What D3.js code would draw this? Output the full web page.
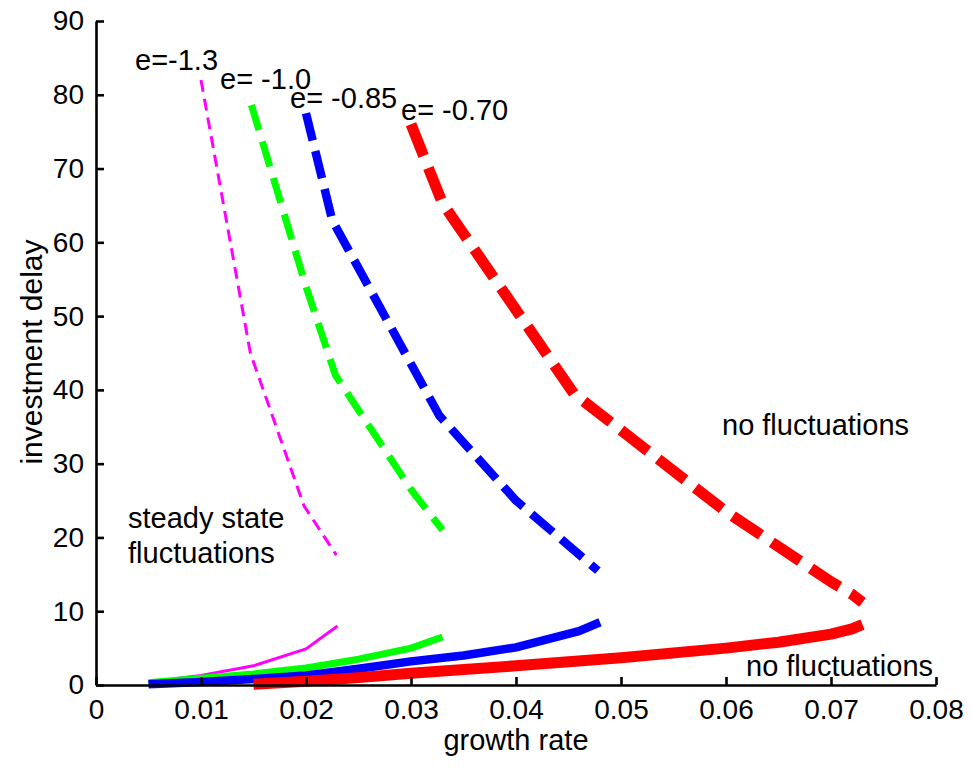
<!DOCTYPE html>
<html>
<head>
<meta charset="utf-8">
<script src="https://cdn.jsdelivr.net/npm/d3@7"></script>
<style>
  html, body { margin: 0; padding: 0; background: #fff; }
  svg { display: block; }
  text { font-family: "Liberation Sans", Arial, Helvetica, sans-serif; fill: #000; }
</style>
</head>
<body>
<svg id="chart" width="971" height="769"></svg>
<script>
// ---------- data ----------
const xTicks = [0, 0.01, 0.02, 0.03, 0.04, 0.05, 0.06, 0.07, 0.08];
const xTickLabels = ["0", "0.01", "0.02", "0.03", "0.04", "0.05", "0.06", "0.07", "0.08"];
const yTicks = [0, 10, 20, 30, 40, 50, 60, 70, 80, 90];
const yTickLabels = ["0", "10", "20", "30", "40", "50", "60", "70", "80", "90"];

// upper (dashed) branches: growth rate / investment delay
const magUpperX = [0.010, 0.0147, 0.0198, 0.0229];
const magUpperY = [82, 45, 24.3, 17.6];
const grnUpperX = [0.0148, 0.0200, 0.0228, 0.0300, 0.0330];
const grnUpperY = [78.6, 54, 42, 26.5, 21];
const bluUpperX = [0.0200, 0.0225, 0.0327, 0.0400, 0.0478];
const bluUpperY = [77.5, 63, 36.5, 25, 15.5];
const redUpperX = [0.0300, 0.0330, 0.0455, 0.0600, 0.0700, 0.0720, 0.0730];
const redUpperY = [76, 65.3, 39.5, 23.5, 14, 12.3, 11.2];

// lower (solid) branches
const magLowerX = [0.005, 0.010, 0.015, 0.020, 0.023];
const magLowerY = [0.4, 1.3, 2.6, 4.9, 8.0];
const grnLowerX = [0.005, 0.010, 0.015, 0.020, 0.025, 0.030, 0.033];
const grnLowerY = [0.3, 0.9, 1.5, 2.3, 3.5, 5.0, 6.5];
const bluLowerX = [0.005, 0.010, 0.015, 0.020, 0.025, 0.030, 0.035, 0.040, 0.046, 0.048];
const bluLowerY = [0.1, 0.4, 0.8, 1.3, 2.2, 3.2, 4.0, 5.1, 7.3, 8.5];
const redLowerX = [0.015, 0.020, 0.025, 0.030, 0.040, 0.050, 0.060, 0.065, 0.070, 0.072, 0.073];
const redLowerY = [0.1, 0.5, 1.0, 1.6, 2.6, 3.7, 5.0, 5.8, 6.9, 7.6, 8.2];

const seriesColors = ["#ff00ff", "#00ff00", "#0000ff", "#ff0000"];
const seriesNames = ["e=-1.3", "e= -1.0", "e= -0.85", "e= -0.70"];

// ---------- layout ----------
const svg = d3.select("#chart");
const x = d3.scaleLinear().domain([0, 0.08]).range([96, 936]);
const y = d3.scaleLinear().domain([0, 90]).range([685, 21]);

const zip = (xs, ys) => xs.map((v, i) => [v, ys[i]]);
const line = d3.line().x(d => x(d[0])).y(d => y(d[1]));

const widths = [3, 7, 8.5, 11];
const dashes = ["12,7", "26,12", "28,11", "34,13"];

const upper = [zip(magUpperX, magUpperY), zip(grnUpperX, grnUpperY), zip(bluUpperX, bluUpperY), zip(redUpperX, redUpperY)];
const lower = [zip(magLowerX, magLowerY), zip(grnLowerX, grnLowerY), zip(bluLowerX, bluLowerY), zip(redLowerX, redLowerY)];

// draw curves
const g = svg.append("g");
upper.forEach((d, i) => {
  g.append("path").attr("d", line(d)).attr("fill", "none")
    .attr("stroke", seriesColors[i]).attr("stroke-width", widths[i])
    .attr("stroke-dasharray", dashes[i]).attr("stroke-linejoin", "round");
});
lower.forEach((d, i) => {
  g.append("path").attr("d", line(d)).attr("fill", "none")
    .attr("stroke", seriesColors[i]).attr("stroke-width", widths[i])
    .attr("stroke-linejoin", "round");
});

// axes
const xAxis = d3.axisBottom(x).tickValues(xTicks).tickFormat((d, i) => xTickLabels[i])
  .tickSizeInner(-8).tickSizeOuter(0).tickPadding(14);
const yAxis = d3.axisLeft(y).tickValues(yTicks).tickFormat((d, i) => yTickLabels[i])
  .tickSizeInner(-8).tickSizeOuter(0).tickPadding(12);

const gx = svg.append("g").attr("transform", `translate(0,${y(0)})`).call(xAxis);
const gy = svg.append("g").attr("transform", `translate(${x(0)},0)`).call(yAxis);
[gx, gy].forEach(a => {
  a.select(".domain").attr("stroke", "#000").attr("stroke-width", 2.6);
  a.selectAll(".tick line").attr("stroke", "#000").attr("stroke-width", 2.6);
  a.selectAll(".tick text").attr("font-size", 28).attr("font-family", "Liberation Sans, Arial, sans-serif").attr("fill", "#000");
});
gx.selectAll(".tick text").attr("dy", "0.71em");

// axis labels
svg.append("text").attr("x", 516).attr("y", 750).attr("text-anchor", "middle")
  .attr("font-size", 29).text("growth rate");
svg.append("text").attr("transform", "translate(42,352) rotate(-90)").attr("text-anchor", "middle")
  .attr("font-size", 30).text("investment delay");

// annotations
const labelPos = [[135, 70], [220, 89], [290, 108], [401, 120]];
seriesNames.forEach((s, i) => {
  svg.append("text").attr("x", labelPos[i][0]).attr("y", labelPos[i][1]).attr("font-size", 29).text(s);
});
svg.append("text").attr("x", 128).attr("y", 528).attr("font-size", 29).text("steady state");
svg.append("text").attr("x", 128).attr("y", 563).attr("font-size", 29).text("fluctuations");
svg.append("text").attr("x", 722).attr("y", 435).attr("font-size", 29).text("no fluctuations");
svg.append("text").attr("x", 746).attr("y", 676).attr("font-size", 29).text("no fluctuations");
</script>
</body>
</html>
